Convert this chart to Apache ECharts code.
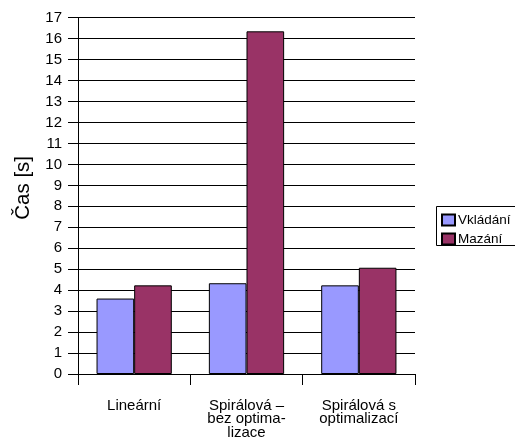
<!DOCTYPE html>
<html>
<head>
<meta charset="utf-8">
<script src="https://cdn.jsdelivr.net/npm/echarts@6/dist/echarts.min.js"></script>
<style>
html, body { margin: 0; padding: 0; background: #fff; }
#chart { width: 515px; height: 441px; }
</style>
</head>
<body>
<div id="chart"></div>
<script>
// data
const categories = ['Lineární', 'Spirálová –\nbez optima-\nlizace', 'Spirálová s\noptimalizací'];
const vkladani = [3.6, 4.33, 4.23];
const mazani = [4.23, 16.35, 5.07];

const chart = echarts.init(document.getElementById('chart'));
const font = 'Liberation Sans, Arial, sans-serif';

const option = {
    animation: false,
    textStyle: { fontFamily: font, color: '#000' },
    grid: {
        left: 78,
        right: 100,
        top: 17.7,
        bottom: 67
    },
    // legend frame runs off the right edge like in the original
    graphic: [{
        type: 'rect',
        z: 0,
        shape: { x: 436.5, y: 206.5, width: 100, height: 39 },
        style: { fill: '#fff', stroke: '#000', lineWidth: 1 }
    }],
    legend: {
        orient: 'vertical',
        left: 436,
        top: 206,
        itemWidth: 13,
        itemHeight: 11,
        itemGap: 5,
        padding: [7, 5, 3, 5],
        textStyle: { fontFamily: font, fontSize: 13.5, lineHeight: 12, color: '#000', padding: [0, 0, 0, -2] },
        data: [
            { name: 'Vkládání', icon: 'rect' },
            { name: 'Mazání', icon: 'rect' }
        ]
    },
    xAxis: {
        type: 'category',
        data: categories,
        axisLine: { lineStyle: { color: '#000', width: 1 } },
        axisTick: { show: true, inside: false, length: 11, lineStyle: { color: '#000' } },
        axisLabel: {
            margin: 25,
            fontSize: 15,
            lineHeight: 13.5,
            color: '#000',
            fontFamily: font,
            align: 'center'
        }
    },
    yAxis: {
        type: 'value',
        min: 0,
        max: 17,
        interval: 1,
        name: 'Čas [s]',
        nameLocation: 'middle',
        nameGap: 44,
        nameTextStyle: { fontSize: 20.5, color: '#000', fontFamily: font, padding: [0, 0, 0, 16] },
        axisLine: { show: true, lineStyle: { color: '#000' } },
        axisTick: { show: true, length: 10, lineStyle: { color: '#000' } },
        axisLabel: { margin: 16, fontSize: 15, color: '#000', fontFamily: font },
        splitLine: { show: true, lineStyle: { color: '#000', width: 1 } }
    },
    series: [
        {
            name: 'Vkládání',
            type: 'bar',
            data: vkladani,
            barGap: '0%',
            barCategoryGap: '33%',
            itemStyle: { color: '#9999FF', borderColor: '#000', borderWidth: 1 }
        },
        {
            name: 'Mazání',
            type: 'bar',
            data: mazani,
            barGap: '0%',
            barCategoryGap: '33%',
            itemStyle: { color: '#993366', borderColor: '#000', borderWidth: 1 }
        }
    ]
};

chart.setOption(option);
</script>
</body>
</html>
